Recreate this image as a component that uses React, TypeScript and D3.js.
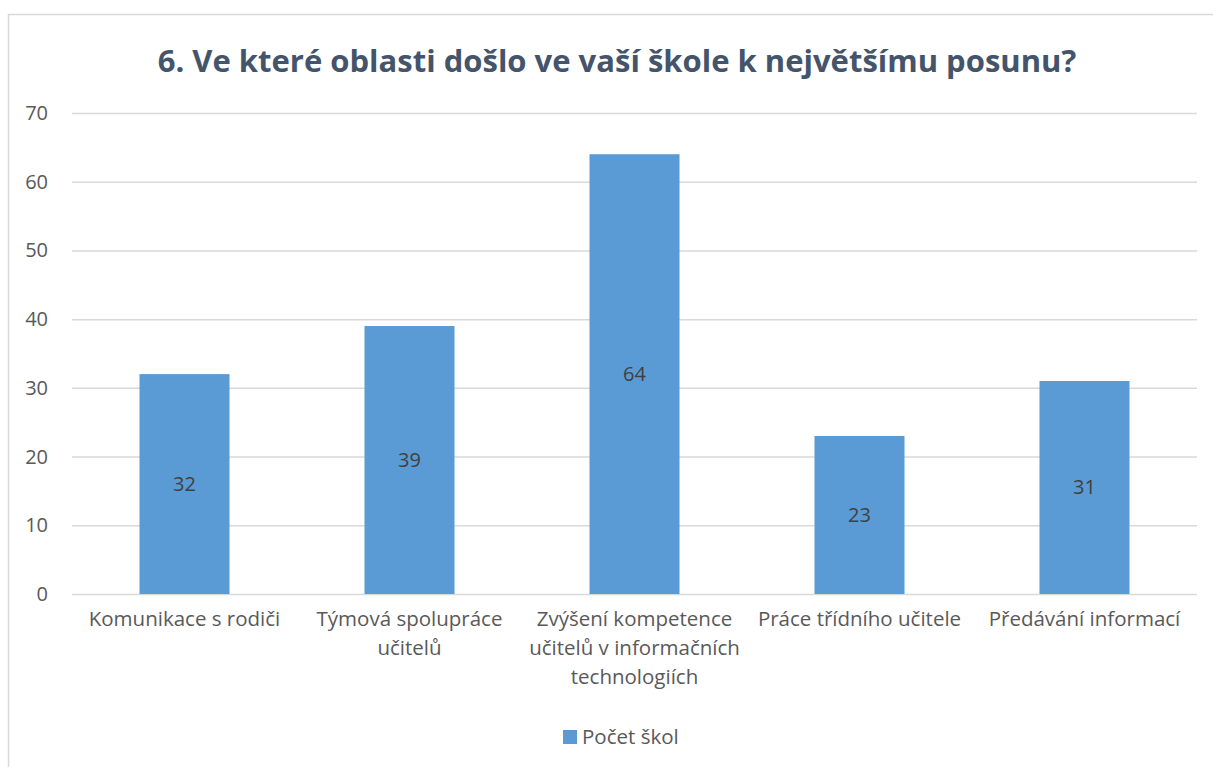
import React, { useEffect, useRef } from "react";
import * as d3 from "d3";

const title = "6. Ve které oblasti došlo ve vaší škole k největšímu posunu?";
const categories = [
  "Komunikace s rodiči",
  "Týmová spolupráce učitelů",
  "Zvýšení kompetence učitelů v informačních technologiích",
  "Práce třídního učitele",
  "Předávání informací",
];
const values = [32, 39, 64, 23, 31];
const seriesName = "Počet škol";
const yTicks = [0, 10, 20, 30, 40, 50, 60, 70];

const W = 1213;
const H = 767;
const FONT = "'Open Sans', 'Liberation Sans', sans-serif";

export default function App() {
  const ref = useRef<SVGSVGElement>(null);

  useEffect(() => {
    const svg = d3.select(ref.current);
    svg.selectAll("*").remove();

    const left = 72, right = 1197, top = 113, bottom = 594;
    const x = d3.scaleBand<string>().domain(categories).range([left, right]).paddingInner(0.6).paddingOuter(0.3);
    const y = d3.scaleLinear().domain([0, 70]).range([bottom, top]);

    // border
    svg.append("rect").attr("x", 8.5).attr("y", 14.5).attr("width", W + 20).attr("height", H + 20)
      .attr("fill", "#fff").attr("stroke", "#d9d9d9").attr("stroke-width", 1.5);

    // title
    svg.append("text").attr("x", 617).attr("y", 72).attr("text-anchor", "middle")
      .attr("font-family", FONT).attr("font-weight", 700).attr("font-size", 31)
      .attr("fill", "#44546a").text(title);

    // gridlines
    svg.append("g").selectAll("line").data(yTicks).join("line")
      .attr("x1", left).attr("x2", right)
      .attr("y1", (d) => y(d) + 0.5).attr("y2", (d) => y(d) + 0.5)
      .attr("stroke", "#d9d9d9").attr("stroke-width", 1.5);

    // y labels
    svg.append("g").selectAll("text").data(yTicks).join("text")
      .attr("x", 48).attr("y", (d) => y(d)).attr("dy", "0.35em").attr("text-anchor", "end")
      .attr("font-family", FONT).attr("font-size", 20).attr("fill", "#595959")
      .text((d) => d);

    // bars
    svg.append("g").selectAll("rect").data(values).join("rect")
      .attr("x", (_, i) => x(categories[i])!).attr("width", x.bandwidth())
      .attr("y", (d) => y(d)).attr("height", (d) => y(0) - y(d))
      .attr("fill", "#5b9bd5");

    // data labels
    svg.append("g").selectAll("text").data(values).join("text")
      .attr("x", (_, i) => x(categories[i])! + x.bandwidth() / 2)
      .attr("y", (d) => (y(d) + y(0)) / 2).attr("dy", "0.35em").attr("text-anchor", "middle")
      .attr("font-family", FONT).attr("font-size", 20).attr("fill", "#404040")
      .text((d) => d);

    // category labels with wrapping
    const step = x.step();
    const g = svg.append("g");
    categories.forEach((c) => {
      const cx = x(c)! + x.bandwidth() / 2;
      const t = g.append("text").attr("x", cx).attr("y", 626).attr("dy", "0.35em")
        .attr("text-anchor", "middle").attr("font-family", FONT).attr("font-size", 20.5).attr("fill", "#595959");
      const words = c.split(" ");
      let line: string[] = [];
      let tspan = t.append("tspan").attr("x", cx).attr("dy", 0);
      for (const w of words) {
        line.push(w);
        tspan.text(line.join(" "));
        if ((tspan.node() as SVGTextContentElement).getComputedTextLength() > step - 4 && line.length > 1) {
          line.pop();
          tspan.text(line.join(" "));
          line = [w];
          tspan = t.append("tspan").attr("x", cx).attr("dy", 29).text(w);
        }
      }
    });

    // legend
    svg.append("rect").attr("x", 563).attr("y", 730).attr("width", 14).attr("height", 14).attr("fill", "#5b9bd5");
    svg.append("text").attr("x", 582).attr("y", 737).attr("dy", "0.35em")
      .attr("font-family", FONT).attr("font-size", 20.5).attr("fill", "#595959").text(seriesName);
  }, []);

  return (
    <svg ref={ref} width={W} height={H} style={{ position: "absolute", left: 0, top: 0, display: "block" }} />
  );
}
